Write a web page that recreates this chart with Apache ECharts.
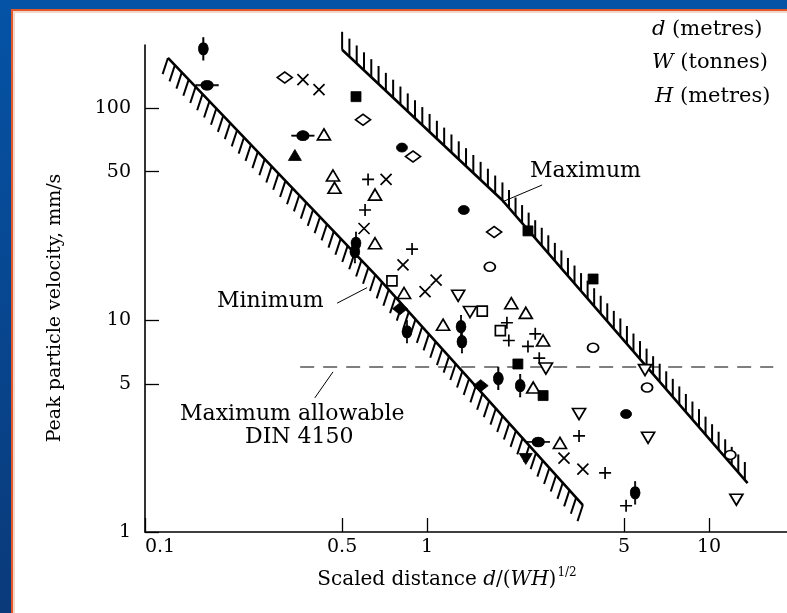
<!DOCTYPE html>
<html>
<head>
<meta charset="utf-8">
<script src="https://cdn.jsdelivr.net/npm/echarts@6/dist/echarts.min.js"></script>
<style>
html, body { margin: 0; width: 787px; height: 613px; overflow: hidden; background: linear-gradient(#0553a6, #0a3a7a); }
#panel { position: absolute; left: 11px; top: 9px; right: -10px; bottom: -10px; background: #fff;
  border-left: 2px solid #e2582a; border-top: 2px solid #e2582a; box-shadow: inset 2px 2px 0 #f2d6ca; }
#chart { position: absolute; left: 0; top: 0; width: 787px; height: 613px; }
</style>
</head>
<body>
<div id="panel"></div>
<div id="chart"></div>
<script>
// axis ticks
const xTicks = [0.1, 0.5, 1, 5, 10];
const yTicks = [1, 5, 10, 50, 100];
const xRange = [0.1, 18.9];
const yRange = [1, 198];

// observations [scaled distance, peak particle velocity]
const plusPts = [[0.618, 46], [0.603, 33], [0.885, 21.6], [1.92, 9.7], [1.95, 8.0], [2.28, 7.5], [2.42, 8.6], [2.50, 6.6], [3.46, 2.84], [4.28, 1.90], [5.08, 1.33]];
const crossPts = [[0.363, 136], [0.414, 122], [0.716, 46], [0.598, 27], [0.822, 18.2], [1.077, 15.4], [0.984, 13.6], [3.06, 2.23], [3.57, 1.98]];
const triUpOpen = [[0.431, 75], [0.464, 48], [0.47, 42], [0.654, 39], [0.654, 23], [0.829, 13.4], [1.99, 12.0], [2.24, 10.8], [1.14, 9.5], [2.58, 8.0], [2.38, 4.8], [2.96, 2.63]];
const triDownOpen = [[1.29, 13.0], [1.42, 10.9], [2.64, 5.9], [3.46, 3.6], [6.08, 2.78], [12.5, 1.42], [5.93, 5.8]];
const triUpFilled = [[0.340, 60]];
const triDownFilled = [[2.24, 2.21]];
const diamondOpen = [[0.313, 139], [0.593, 88], [0.892, 59], [1.73, 26]];
const diamondFilled = [[0.802, 11.3], [1.55, 4.9]];
const squareOpen = [[0.751, 15.3], [1.57, 11.0], [1.82, 8.9]];
const squareFilled = [[0.560, 113], [2.28, 26.3], [3.88, 15.6], [2.10, 6.2], [2.58, 4.4]];
const circleOpen = [[1.67, 17.8], [3.88, 7.4], [6.03, 4.8], [11.9, 2.31]];
const dotPlain = [[0.815, 65], [1.35, 33], [5.08, 3.6]];
const dotVStem = [[0.161, 190], [0.56, 23], [0.555, 21], [0.849, 8.8], [1.32, 9.3], [1.33, 7.9], [1.79, 5.3], [2.14, 4.9], [5.47, 1.53]];
const dotHStem = [[0.166, 128], [0.363, 74], [2.48, 2.66]];

// boundary lines
const minLine = [[0.1206, 172], [0.665, 16.0], [3.57, 1.34]];
const maxLine = [[0.50, 188], [1.845, 36.8], [13.7, 1.70]];
const dinLimit = [[0.355, 6], [16.9, 6]];
const minLeader = [[0.48, 12.0], [0.613, 14.2]];
const maxLeader = [[2.56, 43.3], [1.845, 36.0]];
const dinLeader = [[0.464, 5.69], [0.40, 4.29]];

const lg = (pts) => pts.map(p => [Math.log10(p[0]), Math.log10(p[1])]);
const fmt = (v) => String(Number(Math.pow(10, v).toPrecision(2)));
const serif = 'DejaVu Serif';
const ink = '#000';

const stemDot = 'path://M4.3,0H5.7V22H4.3Z M5,5C8,5 10,7.8 10,11C10,14.2 8,17 5,17C2,17 0,14.2 0,11C0,7.8 2,5 5,5Z';

function scatter(pts, symbol, size, filled, extra) {
  return Object.assign({
    type: 'scatter', data: lg(pts), symbol: symbol, symbolSize: size, z: 5, silent: true,
    itemStyle: filled ? { color: ink, borderColor: ink, borderWidth: 0.8, opacity: 1 }
                      : { color: '#fff', borderColor: ink, borderWidth: 1.7, opacity: 1 }
  }, extra || {});
}

function strokeMark(pts, symbol, size) {
  return {
    type: 'scatter', data: lg(pts), symbol: symbol, symbolSize: size, z: 5, silent: true,
    itemStyle: { color: 'none', borderColor: ink, borderWidth: 1.7, opacity: 1 }
  };
}

function hatch(pts, dir, len, gap) {
  return {
    type: 'custom', silent: true, clip: false, z: 2,
    data: [[0, 0]],
    renderItem: function (params, api) {
      const p = lg(pts).map(v => api.coord(v));
      const n = Math.hypot(dir[0], dir[1]);
      const dx = dir[0] / n * len, dy = dir[1] / n * len;
      const kids = [{ type: 'polyline', shape: { points: p }, style: { stroke: ink, lineWidth: 2.6, fill: null } }];
      let start = 0;
      for (let i = 0; i < p.length - 1; i++) {
        const a = p[i], b = p[i + 1];
        const L = Math.hypot(b[0] - a[0], b[1] - a[1]);
        let s = start;
        for (; s <= L; s += gap) {
          const x = a[0] + (b[0] - a[0]) * s / L;
          const y = a[1] + (b[1] - a[1]) * s / L;
          kids.push({ type: 'line', shape: { x1: x, y1: y, x2: x + dx, y2: y + dy }, style: { stroke: ink, lineWidth: 2 } });
        }
        start = s - L;
      }
      return { type: 'group', children: kids };
    }
  };
}

function plainLine(pts, width, dash) {
  return {
    type: 'line', data: lg(pts), symbol: 'none', silent: true, z: 3,
    lineStyle: { color: ink, width: width, type: dash || 'solid' }
  };
}

const chart = echarts.init(document.getElementById('chart'));
chart.setOption({
  animation: false,
  grid: { left: 145, top: 45, right: 0, bottom: 81 },
  xAxis: {
    type: 'value', min: Math.log10(xRange[0]), max: Math.log10(xRange[1]),
    axisLine: { onZero: false, lineStyle: { color: ink, width: 1.6 } },
    axisTick: { inside: true, length: 14, customValues: xTicks.map(Math.log10), lineStyle: { color: ink, width: 1.3 } },
    axisLabel: {
      customValues: xTicks.map(Math.log10), margin: 6, color: ink, fontFamily: serif, fontSize: 19,
      // the first label sits to the right of the origin in the source figure
      formatter: (v) => v === Math.log10(xTicks[0]) ? '{first|' + fmt(v) + '}' : fmt(v),
      rich: { first: { fontFamily: serif, fontSize: 19, color: ink, padding: [0, 0, 0, 30] } }
    },
    splitLine: { show: false }
  },
  yAxis: {
    type: 'value', min: Math.log10(yRange[0]), max: Math.log10(yRange[1]),
    axisLine: { onZero: false, lineStyle: { color: ink, width: 1.6 } },
    axisTick: { inside: true, length: 14, customValues: yTicks.map(Math.log10), lineStyle: { color: ink, width: 1.3 } },
    axisLabel: { customValues: yTicks.map(Math.log10), formatter: fmt, margin: 14, color: ink, fontFamily: serif, fontSize: 19 },
    splitLine: { show: false }
  },
  graphic: [
    { type: 'text', x: 55, y: 308, rotation: Math.PI / 2,
      style: { text: 'Peak particle velocity, mm/s', fill: ink, font: '19px "DejaVu Serif"', align: 'center', verticalAlign: 'middle' } },
    { type: 'text', x: 447, y: 580,
      style: { text: 'Scaled distance {i|d}/({i|WH}){s|1/2}', fill: ink, font: '20px "DejaVu Serif"', align: 'center', verticalAlign: 'middle',
        rich: { i: { fontStyle: 'italic', fontFamily: serif, fontSize: 20 }, s: { fontFamily: serif, fontSize: 12, padding: [0, 0, 14, 1] } } } },
    { type: 'text', x: 217, y: 301,
      style: { text: 'Minimum', fill: ink, font: '22px "DejaVu Serif"', verticalAlign: 'middle' } },
    { type: 'text', x: 530, y: 171,
      style: { text: 'Maximum', fill: ink, font: '22px "DejaVu Serif"', verticalAlign: 'middle' } },
    { type: 'text', x: 180, y: 414,
      style: { text: 'Maximum allowable', fill: ink, font: '22px "DejaVu Serif"', verticalAlign: 'middle' } },
    { type: 'text', x: 245, y: 437,
      style: { text: 'DIN 4150', fill: ink, font: '22px "DejaVu Serif"', verticalAlign: 'middle' } },
    { type: 'text', x: 652, y: 30,
      style: { text: '{i|d} (metres)', fill: ink, font: '21px "DejaVu Serif"', verticalAlign: 'middle',
        rich: { i: { fontStyle: 'italic', fontFamily: serif, fontSize: 21 } } } },
    { type: 'text', x: 652, y: 63,
      style: { text: '{i|W} (tonnes)', fill: ink, font: '21px "DejaVu Serif"', verticalAlign: 'middle',
        rich: { i: { fontStyle: 'italic', fontFamily: serif, fontSize: 21 } } } },
    { type: 'text', x: 655, y: 97,
      style: { text: '{i|H} (metres)', fill: ink, font: '21px "DejaVu Serif"', verticalAlign: 'middle',
        rich: { i: { fontStyle: 'italic', fontFamily: serif, fontSize: 21 } } } }
  ],
  series: [
    hatch(minLine, [-0.33, 1], 17, 10),
    hatch(maxLine, [0, -1], 18, 10),
    plainLine(dinLimit, 1.2, [14, 9]),
    plainLine(minLeader, 1),
    plainLine(maxLeader, 1),
    plainLine(dinLeader, 1),
    strokeMark(plusPts, 'path://M5,0L5,10M0,5L10,5', 12),
    strokeMark(crossPts, 'path://M0,0L10,10M10,0L0,10', 11),
    scatter(triUpOpen, 'triangle', [13, 11], false),
    scatter(triDownOpen, 'triangle', [13, 11], false, { symbolRotate: 180 }),
    scatter(triUpFilled, 'triangle', [13, 11], true),
    scatter(triDownFilled, 'triangle', [13, 11], true, { symbolRotate: 180 }),
    scatter(diamondOpen, 'diamond', [15, 11], false),
    scatter(diamondFilled, 'diamond', [15, 12], true),
    scatter(squareOpen, 'rect', 10, false),
    scatter(squareFilled, 'rect', 10, true),
    scatter(circleOpen, 'circle', [11, 9], false),
    scatter(dotPlain, 'circle', [11, 9], true),
    scatter(dotVStem, stemDot, [10, 22], true),
    scatter(dotHStem, stemDot, [10, 22], true, { symbolRotate: 90 })
  ]
});
</script>
</body>
</html>
